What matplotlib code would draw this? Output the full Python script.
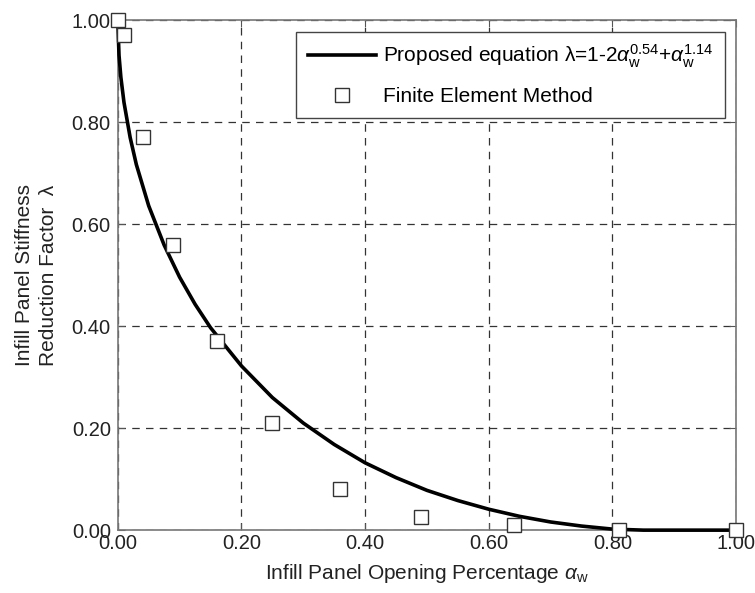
import matplotlib
matplotlib.use("Agg")
import matplotlib.pyplot as plt
import numpy as np

plt.rcParams['font.family'] = ['Liberation Sans', 'DejaVu Sans']
plt.rcParams['mathtext.fontset'] = 'custom'
plt.rcParams['mathtext.rm'] = 'Liberation Sans'
plt.rcParams['mathtext.it'] = 'Liberation Sans:italic'
plt.rcParams['mathtext.bf'] = 'Liberation Sans:bold'

# curve (proposed equation)
curve_x = [0.0, 0.002, 0.005, 0.01, 0.02, 0.03, 0.05, 0.075, 0.1, 0.125, 0.15,
           0.2, 0.25, 0.3, 0.35, 0.4, 0.45, 0.5, 0.55, 0.6, 0.65, 0.7, 0.75,
           0.8, 0.85, 0.9, 0.95, 1.0]
curve_y = [1.0, 0.931, 0.888, 0.839, 0.770, 0.717, 0.636, 0.559, 0.496, 0.443, 0.397,
           0.322, 0.260, 0.210, 0.168, 0.132, 0.103, 0.078, 0.058, 0.041, 0.027, 0.016, 0.008,
           0.002, 0.0, 0.0, 0.0, 0.0]

# finite element results
fem_x = [0.0, 0.01, 0.04, 0.09, 0.16, 0.25, 0.36, 0.49, 0.64, 0.81, 1.0]
fem_y = [1.0, 0.97, 0.77, 0.56, 0.37, 0.21, 0.08, 0.025, 0.01, 0.0, 0.0]

xticks = [0.0, 0.2, 0.4, 0.6, 0.8, 1.0]
yticks = [0.0, 0.2, 0.4, 0.6, 0.8, 1.0]

fig = plt.figure(figsize=(7.55, 5.93), dpi=100)
ax = fig.add_axes([0.156, 0.106, 0.819, 0.86])

ax.plot(curve_x, curve_y, color='black', lw=2.6,
        label=r'Proposed equation $\mathrm{\lambda}$=1-2$\alpha_{\mathrm{w}}^{0.54}$+$\alpha_{\mathrm{w}}^{1.14}$',
        zorder=3, clip_on=False)
ax.plot(fem_x, fem_y, ls='none', marker='s', ms=9.5, mfc='white', mec='#333333',
        mew=1.0, label='Finite Element Method', zorder=4, clip_on=False)

ax.set_xlim(0, 1)
ax.set_ylim(0, 1)
ax.set_xticks(xticks)
ax.set_yticks(yticks)
ax.set_xticklabels([f'{v:.2f}' for v in xticks])
ax.set_yticklabels([f'{v:.2f}' for v in yticks])
ax.tick_params(direction='in', length=5, width=0.8, labelsize=14.5, colors='#555555',
               labelcolor='#222222', top=True, right=True)
ax.tick_params(axis='x', pad=3)
ax.tick_params(axis='y', pad=5)
ax.grid(True, ls=(0, (6, 5)), color='#333333', lw=0.9)
for s in ax.spines.values():
    s.set_color('#777777')
    s.set_linewidth(1.2)

ax.set_xlabel(r'Infill Panel Opening Percentage $\alpha_{\mathrm{w}}$', fontsize=15,
              color='#222222', labelpad=6)
ax.set_ylabel('Infill Panel Stiffness\nReduction Factor  λ', fontsize=15, color='#222222',
              linespacing=1.3, labelpad=10)

leg = ax.legend(loc='upper right', fontsize=15, frameon=True, fancybox=False,
                edgecolor='#444444', framealpha=1, handlelength=3.3, handletextpad=0.3,
                borderpad=0.55, labelspacing=0.8, borderaxespad=0.55)
leg.get_frame().set_linewidth(1.0)

fig.savefig('out.png', dpi=100)
